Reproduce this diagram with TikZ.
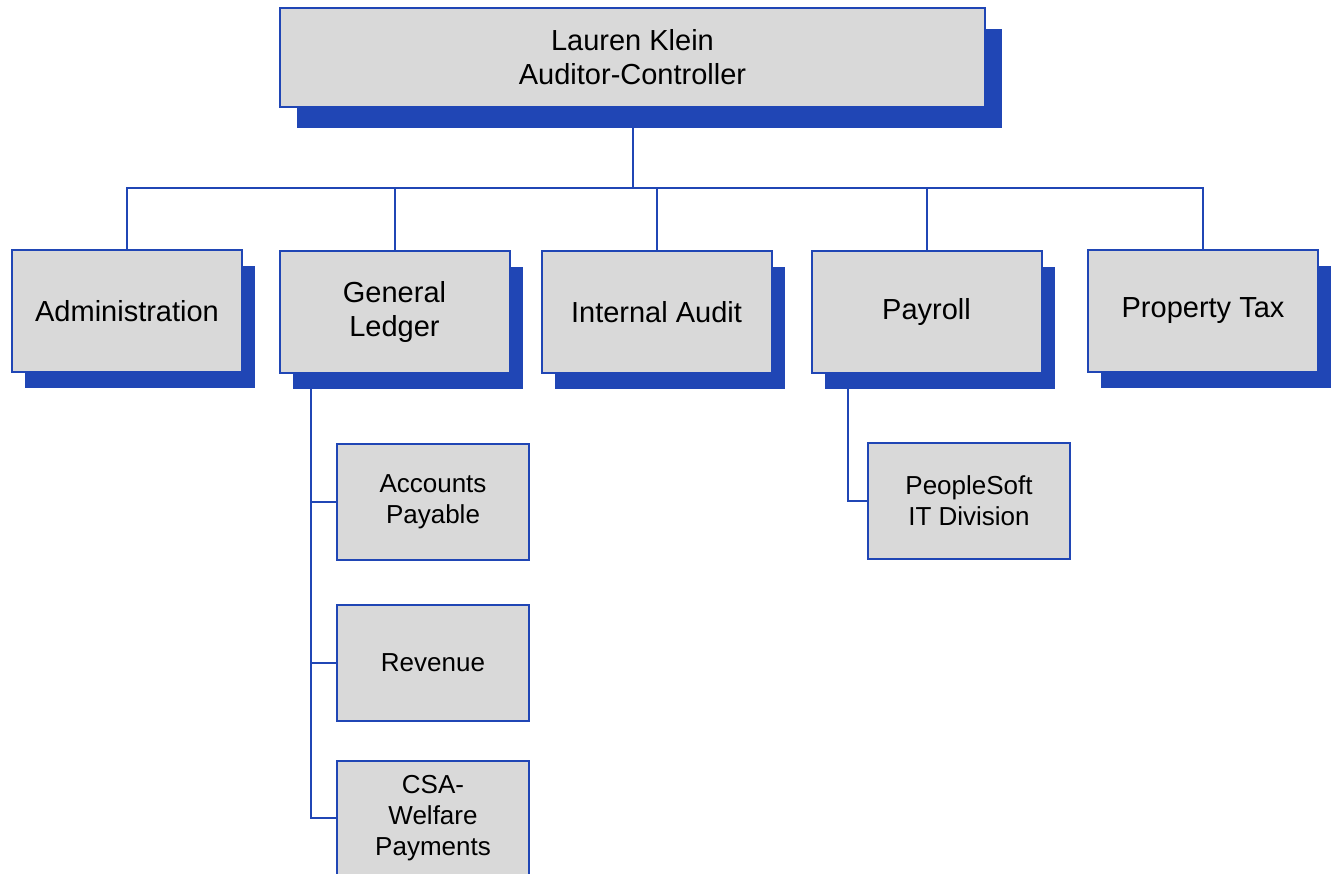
\documentclass[tikz,border=0pt]{standalone}
\usepackage{fontspec}
\setmainfont{Liberation Sans}
\usepackage{tikz}
\usetikzlibrary{positioning,shadows}
\definecolor{ACBlue}{HTML}{2046B5}
\definecolor{ACGray}{HTML}{D9D9D9}

\begin{document}
\begin{tikzpicture}[
    x=0.5pt, y=-0.5pt,
    basebox/.style={
      draw=ACBlue,
      fill=ACGray,
      line width=1pt,
      inner sep=0pt,
      align=center
    },
    orgbox/.style={
      basebox,
      minimum width=115pt,
      minimum height=61pt,
      font=\fontsize{14.5}{17}\selectfont,
      drop shadow={shadow xshift=6.5pt, shadow yshift=-8pt, fill=ACBlue, opacity=1}
    },
    bossbox/.style={
      basebox,
      minimum width=352.5pt,
      minimum height=49.5pt,
      font=\fontsize{14.5}{17}\selectfont,
      drop shadow={shadow xshift=8.5pt, shadow yshift=-10.5pt, fill=ACBlue, opacity=1}
    },
    subbox/.style={
      basebox,
      minimum width=96pt,
      minimum height=58pt,
      font=\fontsize{13}{15.5}\selectfont
    },
    orgline/.style={
      draw=ACBlue,
      line width=1pt
    }
  ]
  \useasboundingbox (0,0) rectangle (1336,873);

  \node[bossbox] (boss) at (632.5,57.5) {Lauren Klein\\Auditor-Controller};

  \node[orgbox] (admin) at (127,311) {Administration};
  \node[orgbox] (gl) at (394.5,312) {General\\Ledger};
  \node[orgbox] (ia) at (656.5,312) {Internal Audit};
  \node[orgbox] (pay) at (926.5,312) {Payroll};
  \node[orgbox] (pt) at (1203,311) {Property Tax};

  \node[subbox] (ap) at (433,502) {Accounts\\Payable};
  \node[subbox, below=21.5pt of ap] (rev) {Revenue};
  \node[subbox, below=19pt of rev, minimum height=57pt] (csa) {CSA-\\Welfare\\Payments};
  \node[subbox, minimum width=101pt] (ps) at (969,501) {PeopleSoft\\IT Division};

  \coordinate (bus) at (632.5,188);
  \coordinate (glx) at ([xshift=16pt]gl.south west);
  \coordinate (payx) at ([xshift=18.5pt]pay.south west);

  \draw[orgline] (boss.south) -- (boss.south |- bus);
  \draw[orgline] (admin.north) |- (bus) -| (pt.north);
  \foreach \n in {gl,ia,pay}
    \draw[orgline] (\n.north) -- (\n.north |- bus);

  \draw[orgline] (glx) |- (csa.west);
  \draw[orgline] (ap.west) -- (ap.west -| glx);
  \draw[orgline] (rev.west) -- (rev.west -| glx);
  \draw[orgline] (payx) |- (ps.west);

\end{tikzpicture}
\end{document}
